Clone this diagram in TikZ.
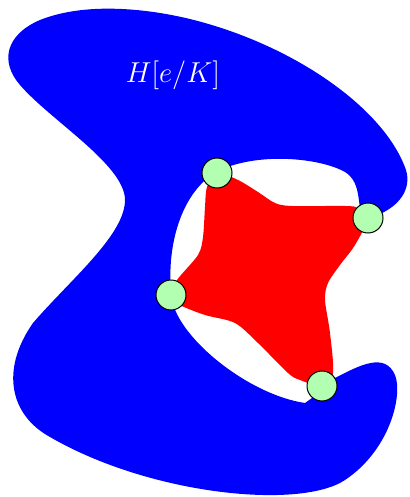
\documentclass[tikz,border=0pt]{standalone}
\tikzset{
    blob/.style={
        fill=blue
    },
    star/.style={
        fill=red
    },
    vertex/.style={
        circle, draw, fill=green!30, line width=0.5pt,
        minimum size=15pt, inner sep=0pt
    },
    hlabel/.style={
        text=white, font=\Large, anchor=base
    }
}

\begin{document}
\begin{tikzpicture}[x=0.5pt, y=-0.5pt]
        \useasboundingbox (0,0) rectangle (410,497);

        % corners of the star
        \coordinate (p1) at (217,173);
        \coordinate (p2) at (368,218);
        \coordinate (p3) at (171,295);
        \coordinate (p4) at (322,386);

        % the blue region, open on the right
        \fill[blob] (335,378) .. controls (360,365) and (385,352) .. (395,375)
            .. controls (403,395) and (390,450) .. (345,480)
            .. controls (300,510) and (150,495) .. (50,437)
            .. controls (10,415) and (0,370) .. (33,323)
            .. controls (70,280) and (125,235) .. (125,200)
            .. controls (125,165) and (50,120) .. (20,85)
            .. controls (0,62) and (5,35) .. (40,20)
            .. controls (90,0) and (160,10) .. (205,23)
            .. controls (300,50) and (385,110) .. (406,170)
            .. controls (412,190) and (398,206) .. (380,214)
            -- (360,208)
            .. controls (358,195) and (358,180) .. (345,172)
            .. controls (320,158) and (260,152) .. (220,170)
            .. controls (180,190) and (165,250) .. (172,300)
            .. controls (180,340) and (250,395) .. (305,403)
            -- (312,398) -- cycle;

        % the red star
        \fill[star] plot[smooth cycle, tension=0.5] coordinates {
                (p1) (238,180) (258,192) (275,203) (292,206) (345,206) (358,208)
                (p2) (355,245) (340,265) (328,283) (325,300) (330,333) (333,373)
                (p4) (300,380) (288,373) (258,343) (235,323) (205,315) (180,305)
                (p3) (177,280) (198,255) (203,237) (205,207) (207,187)};

        \node[vertex] (v1) at (p1) {};
        \node[vertex] (v2) at (p2) {};
        \node[vertex] (v3) at (p3) {};
        \node[vertex] (v4) at (p4) {};

        \node[hlabel] (lab) at (173,83) {$H[e/K]$};
    \end{tikzpicture}
\end{document}
